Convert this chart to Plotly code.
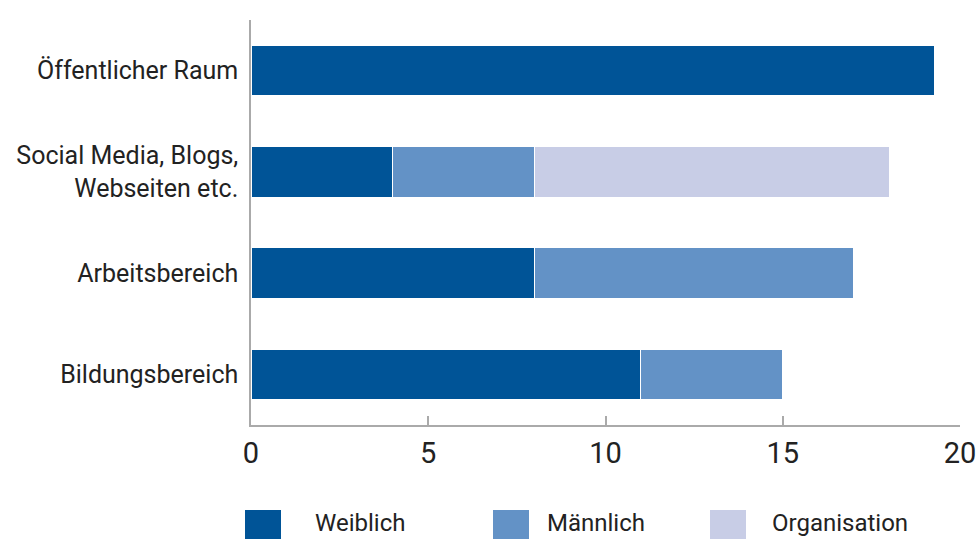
import plotly.graph_objects as go

categories = ["Bildungsbereich", "Arbeitsbereich", "Social Media, Blogs,<br>Webseiten etc.", "Öffentlicher Raum"]
weiblich = [11, 8, 4, 19.27]
maennlich = [4, 9, 4, 0]
organisation = [0, 0, 10, 0]

series = [
    ("Weiblich", weiblich, "#005497"),
    ("Männlich", maennlich, "#6392c6"),
    ("Organisation", organisation, "#c8cde6"),
]

fig = go.Figure()
for name, vals, color in series:
    fig.add_trace(go.Bar(
        y=categories, x=vals, name=name, orientation="h",
        marker=dict(color=color, line=dict(color="white", width=1)),
        width=0.5, showlegend=False,
    ))

# custom legend with large squares
plot_left, plot_w = 251, 709
plot_bottom, plot_h = 425, 405
legend_items = [("Weiblich", 245, 313), ("Männlich", 493, 545), ("Organisation", 710, 770)]
for (name, vals, color), (_, sx, tx) in zip(series, legend_items):
    fig.add_shape(type="rect", xref="paper", yref="paper",
                  x0=(sx - plot_left) / plot_w, x1=(sx + 36 - plot_left) / plot_w,
                  y0=(plot_bottom - 545) / plot_h, y1=(plot_bottom - 510) / plot_h,
                  fillcolor=color, line=dict(width=0))
    fig.add_annotation(text=name, xref="paper", yref="paper",
                       x=(tx - plot_left) / plot_w, y=(plot_bottom - 523) / plot_h,
                       xanchor="left", yanchor="middle", showarrow=False,
                       font=dict(size=24, color="#222"))

fig.update_layout(
    barmode="stack",
    width=980, height=539,
    margin=dict(l=251, r=20, t=20, b=114),
    plot_bgcolor="white", paper_bgcolor="white",
    font=dict(family="Roboto", color="#222"),
)
fig.update_xaxes(range=[0, 20], tickvals=[0, 5, 10, 15, 20], showgrid=False, zeroline=False,
                 showline=True, linecolor="#aaaaaa", linewidth=1.5, automargin=False,
                 ticks="inside", ticklen=9, tickcolor="#aaaaaa", tickwidth=1.5,
                 tickfont=dict(size=29), ticklabelstandoff=1)
fig.update_yaxes(showgrid=False, zeroline=False, showline=True, linecolor="#aaaaaa", linewidth=1.5,
                 automargin=False, ticks="", tickfont=dict(size=25), ticklabelstandoff=6)

fig.write_html("out.html", config={"displayModeBar": False},
               post_script="document.body.style.margin='0';")
